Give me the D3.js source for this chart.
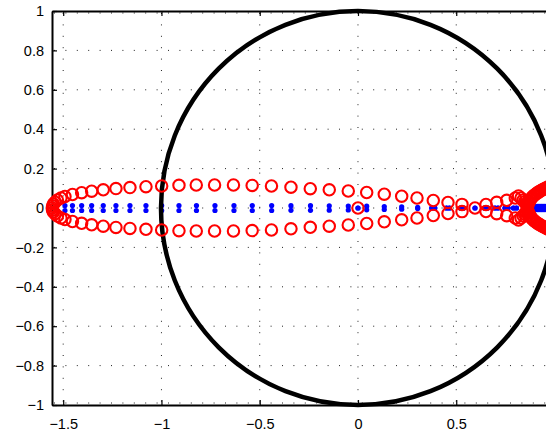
<!DOCTYPE html>
<html>
<head>
<meta charset="utf-8">
<script src="https://cdn.jsdelivr.net/npm/d3@7"></script>
<style>
  body { margin: 0; background: #fff; }
  svg { display: block; }
  .tick text { font-family: "Liberation Sans", Arial, Helvetica, sans-serif; font-size: 14.5px; fill: #000; }
</style>
</head>
<body>
<div id="chart"></div>
<script>
// tick values (x = 1 lies just past the right edge of the picture)
const xTicks = [-1.5, -1, -0.5, 0, 0.5];
const yTicks = [-1, -0.8, -0.6, -0.4, -0.2, 0, 0.2, 0.4, 0.6, 0.8, 1];

// red circles, upper half of each conjugate pair (lower half is the mirror)
const redX = [-1.5542, -1.5496, -1.5420, -1.5293, -1.5115, -1.4911, -1.4529, -1.4061, -1.3552, -1.2962,
  -1.2316, -1.1603, -1.0789, -0.9990, -0.9109, -0.8229, -0.7298, -0.6336, -0.5384, -0.4402,
  -0.3410, -0.2427, -0.1461, -0.0494, 0.0443, 0.1338, 0.2224, 0.3003, 0.3832, 0.4580,
  0.5293, 0.6514, 0.7059, 0.7567, 0.8005,
  0.8168, 0.8295, 0.8397, 0.8473, 0.8550, 0.8601, 0.8626, 0.8677, 0.8728, 0.8779,
  0.8830, 0.8880, 0.8957, 0.9033, 0.9109, 0.9186, 0.9262, 0.9338, 0.9415, 0.9491,
  0.9567, 0.9644, 0.9720, 0.9822, 0.9924];
const redY = [0.0102, 0.0203, 0.0294, 0.0406, 0.0508, 0.0584, 0.0685, 0.0777, 0.0853, 0.0924,
  0.0985, 0.1036, 0.1081, 0.1117, 0.1152, 0.1168, 0.1168, 0.1168, 0.1147, 0.1117,
  0.1056, 0.0980, 0.0924, 0.0863, 0.0787, 0.0701, 0.0599, 0.0508, 0.0381, 0.0279,
  0.0183, 0.0178, 0.0289, 0.0391, 0.0508,
  0.0609, 0.0508, 0.0396, 0.0305, 0.0218, 0.0137, 0.0051, 0.0228, 0.0330, 0.0431,
  0.0508, 0.0574, 0.0640, 0.0701, 0.0756, 0.0807, 0.0853, 0.0898, 0.0939, 0.0980,
  0.1015, 0.1051, 0.1086, 0.1117, 0.1147];
// red circles on the real axis
const redRealX = [-1.5557, 0, 0.5954];

// blue dots, drawn at +y and -y
const blueX = [-1.4911, -1.4529, -1.4061, -1.3552, -1.2962, -1.2316, -1.1603, -1.0789, -0.9990, -0.9109,
  -0.8219, -0.7277, -0.6310, -0.5379, -0.4392, -0.3410, -0.2417, -0.1461, -0.0494, 0,
  0.0443, 0.1338, 0.2224, 0.3038,
  0.3756, 0.3908, 0.4504, 0.4656, 0.5216, 0.5369, 0.5954, 0.6438, 0.6590, 0.6972,
  0.7125, 0.7481, 0.7634, 0.7913, 0.8066,
  0.8651, 0.8728, 0.8804, 0.8880, 0.8957, 0.9033, 0.9109, 0.9186, 0.9262, 0.9338,
  0.9415, 0.9491, 0.9567, 0.9644, 0.9720];
const blueY = [0.0127, 0.0127, 0.0127, 0.0127, 0.0127, 0.0127, 0.0127, 0.0127, 0.0127, 0.0127,
  0.0127, 0.0127, 0.0127, 0.0127, 0.0127, 0.0117, 0.0117, 0.0112, 0.0102, 0,
  0.0091, 0.0076, 0.0061, 0.0030,
  0, 0, 0, 0, 0, 0, 0, 0, 0, 0,
  0, 0, 0, 0, 0,
  0.008, 0.008, 0.008, 0.008, 0.008, 0.008, 0.008, 0.008, 0.008, 0.008,
  0.008, 0.008, 0.008, 0.008, 0.008];

const WIDTH = 546;
const HEIGHT = 432;

const svg = d3.select("#chart")
  .append("svg")
  .attr("width", WIDTH)
  .attr("height", HEIGHT);

const x = d3.scaleLinear().domain([-1.557, 1.0]).range([52, 554.5]);
const y = d3.scaleLinear().domain([-1, 1]).range([405, 11]);

const fmt = d3.format("~g");

// dotted grid
const grid = svg.append("g")
  .attr("stroke", "#222")
  .attr("stroke-width", 1)
  .attr("stroke-dasharray", "1 10.4");

grid.selectAll("line.v")
  .data(xTicks)
  .enter()
  .append("line")
  .attr("class", "v")
  .attr("x1", d => x(d)).attr("x2", d => x(d))
  .attr("y1", y(1) + 2).attr("y2", y(-1) - 2);

grid.selectAll("line.h")
  .data(yTicks)
  .enter()
  .append("line")
  .attr("class", "h")
  .attr("y1", d => y(d) + (d === 1 ? 2 : d === -1 ? -2 : 0))
  .attr("y2", d => y(d) + (d === 1 ? 2 : d === -1 ? -2 : 0))
  .attr("x1", x.range()[0] + 2).attr("x2", x.range()[1]);

// axes box
const xAxis = d3.axisBottom(x).tickValues(xTicks).tickSizeInner(-5).tickSizeOuter(0)
  .tickPadding(14).tickFormat(fmt);
const xAxisTop = d3.axisTop(x).tickValues(xTicks).tickSizeInner(-5).tickSizeOuter(0)
  .tickFormat("");
const yAxis = d3.axisLeft(y).tickValues(yTicks).tickSizeInner(-5).tickSizeOuter(0)
  .tickPadding(8).tickFormat(fmt);

svg.append("g").attr("transform", `translate(0,${y(-1)})`).call(xAxis);
svg.append("g").attr("transform", `translate(0,${y(1)})`).call(xAxisTop);
svg.append("g").attr("transform", `translate(${x.range()[0]},0)`).call(yAxis);

svg.selectAll(".domain").attr("stroke", "#000").attr("stroke-width", 2);
svg.selectAll(".tick line").attr("stroke", "#000").attr("stroke-width", 1.2);

// blue dots
const bluePts = [];
blueX.forEach((v, i) => {
  bluePts.push([v, blueY[i]]);
  bluePts.push([v, -blueY[i]]);
});
svg.append("g")
  .selectAll("circle")
  .data(bluePts)
  .enter()
  .append("circle")
  .attr("cx", d => x(d[0]))
  .attr("cy", d => y(d[1]))
  .attr("r", 2.6)
  .attr("fill", "#0000ff");

// unit circle
svg.append("circle")
  .attr("cx", x(0))
  .attr("cy", y(0))
  .attr("r", y(0) - y(1))
  .attr("fill", "none")
  .attr("stroke", "#000")
  .attr("stroke-width", 4.5);

// red circles
const redPts = [];
redX.forEach((v, i) => {
  redPts.push([v, redY[i]]);
  redPts.push([v, -redY[i]]);
});
redRealX.forEach(v => redPts.push([v, 0]));

svg.append("g")
  .selectAll("circle")
  .data(redPts)
  .enter()
  .append("circle")
  .attr("cx", d => x(d[0]))
  .attr("cy", d => y(d[1]))
  .attr("r", 5.7)
  .attr("fill", "none")
  .attr("stroke", "#ff0000")
  .attr("stroke-width", 2.1);
</script>
</body>
</html>
